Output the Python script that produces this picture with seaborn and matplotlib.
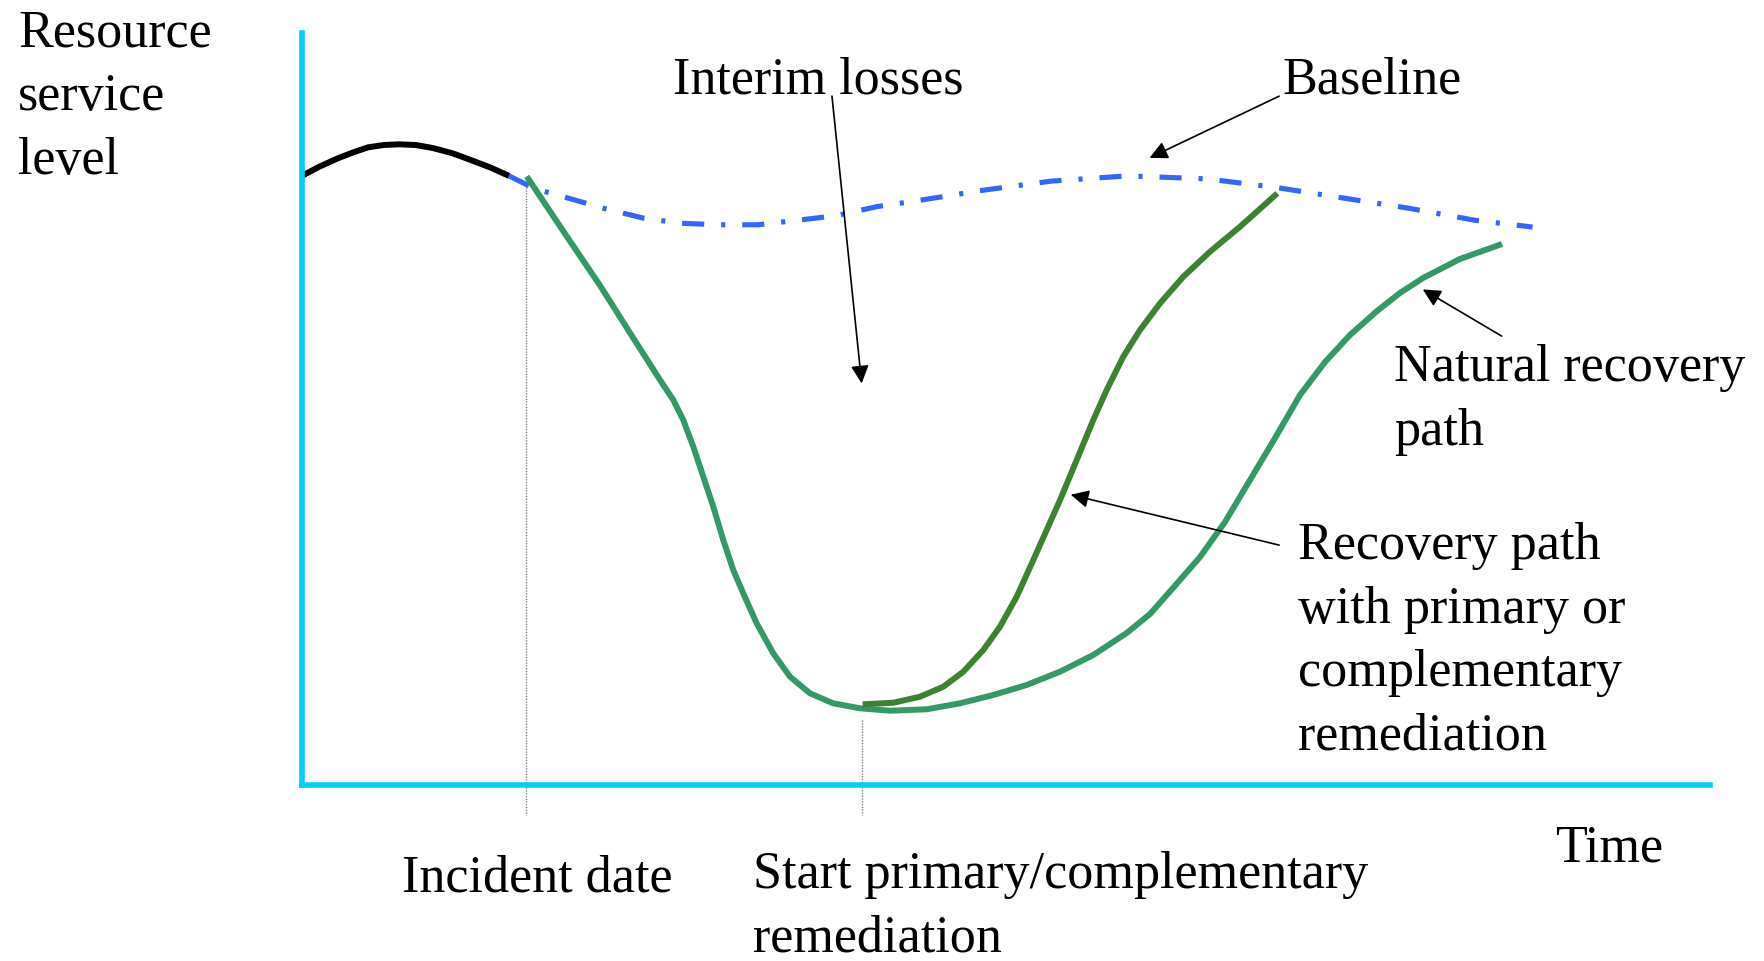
import matplotlib
matplotlib.use("Agg")
import matplotlib.pyplot as plt
import seaborn as sns

# curve values (time on x, service level on y, 0-100 scale)
pre_x = [0.0, 1.2, 2.5, 3.6, 4.7, 5.8, 6.9, 8.1, 9.3, 10.7, 12.0, 13.4, 14.7]
pre_y = [81.0, 82.2, 83.3, 84.1, 84.8, 85.1, 85.2, 85.1, 84.7, 84.0, 83.1, 82.1, 81.0]

baseline_x = [14.7, 16.0, 17.1, 18.8, 21.4, 24.2, 26.9, 29.6, 32.4, 35.2, 37.9, 40.8,
              43.7, 48.4, 53.2, 58.6, 64.3, 69.4, 73.8, 78.6, 83.3, 87.4]
baseline_y = [81.0, 79.8, 79.0, 78.1, 76.7, 75.4, 74.7, 74.5, 74.5, 75.1, 75.7, 76.9,
              77.7, 79.1, 80.3, 81.0, 80.6, 79.4, 78.1, 76.7, 75.1, 74.2]

natural_x = [15.96, 18.80, 21.16, 23.53, 25.43, 26.37, 27.08, 27.79, 28.50, 29.21, 29.92,
             30.63, 31.34, 32.29, 33.47, 34.66, 36.08, 37.73, 39.63, 41.76, 44.37, 46.73,
             49.10, 51.47, 53.84, 56.20, 58.57, 60.23, 61.86, 63.78, 65.55, 67.33, 69.11,
             70.88, 72.66, 74.43, 76.35, 77.98, 79.62, 82.24, 85.23]
natural_y = [80.93, 72.97, 66.44, 59.43, 53.86, 51.20, 48.54, 44.99, 41.00, 37.01, 32.58,
             28.59, 25.49, 21.50, 17.51, 14.40, 12.19, 10.86, 10.20, 9.88, 10.07, 10.86,
             11.97, 13.30, 15.07, 17.29, 20.21, 22.74, 26.20, 30.32, 34.97, 40.56, 46.14,
             51.86, 56.25, 59.84, 63.03, 65.43, 67.42, 69.95, 71.94]

remed_x = [39.82, 42.00, 43.89, 45.55, 46.97, 48.39, 49.57, 50.76, 51.94, 52.89, 53.84,
           55.02, 56.20, 57.15, 58.33, 59.52, 60.94, 62.59, 64.49, 66.62, 69.27]
remed_y = [10.73, 10.94, 11.74, 13.07, 15.07, 17.95, 21.05, 25.04, 29.92, 33.91, 37.90,
           43.22, 48.54, 52.53, 56.96, 60.51, 64.06, 67.59, 70.92, 74.24, 78.68]

incident_t = 15.9
start_t = 39.8

sns.set_style("white")
plt.rcParams["font.family"] = ["Liberation Serif", "DejaVu Serif"]
plt.rcParams["font.size"] = 37.5
plt.rcParams["text.color"] = "black"

W, H = 1764, 961
fig = plt.figure(figsize=(W / 100, H / 100), dpi=100)
ax = fig.add_axes([302 / W, (H - 785) / H, (1710 - 302) / W, (785 - 33) / H])
ax.set_xlim(0, 100)
ax.set_ylim(0, 100)

# curves
line_kw = dict(lw=4.3, sort=False, estimator=None, solid_joinstyle="round",
               solid_capstyle="butt")
sns.lineplot(x=baseline_x, y=baseline_y, ax=ax, color="#3366ff", lw=3.7, sort=False,
             estimator=None, linestyle=(0, (4.3, 3.3, 0.8, 3.3)))
sns.lineplot(x=pre_x, y=pre_y, ax=ax, color="black", **line_kw)
sns.lineplot(x=natural_x, y=natural_y, ax=ax, color="#339966", **line_kw)
sns.lineplot(x=remed_x, y=remed_y, ax=ax, color="#3c8230", **line_kw)

# dotted markers for incident and start of remediation
ax.plot([incident_t, incident_t], [79.5, -4.0], color="gray", lw=1.0, ls=(0, (1, 1)),
        clip_on=False, zorder=1)
ax.plot([start_t, start_t], [8.6, -4.0], color="gray", lw=1.0, ls=(0, (1, 1)),
        clip_on=False, zorder=1)

# axes styling
for s in ["top", "right"]:
    ax.spines[s].set_visible(False)
for s in ["left", "bottom"]:
    ax.spines[s].set_color("#00ccff")
    ax.spines[s].set_linewidth(4.0)
ax.set_xticks([])
ax.set_yticks([])

# arrows
arrow = dict(arrowstyle="-|>", color="black", lw=1.2, mutation_scale=27, shrinkA=0, shrinkB=0)
ax.annotate("", xy=(39.75, 53.4), xytext=(37.64, 91.6), arrowprops=arrow, annotation_clip=False)
ax.annotate("", xy=(60.2, 83.4), xytext=(69.4, 91.6), arrowprops=arrow, annotation_clip=False)
ax.annotate("", xy=(79.6, 65.9), xytext=(85.2, 59.7), arrowprops=arrow, annotation_clip=False)
ax.annotate("", xy=(54.6, 38.6), xytext=(69.4, 31.9), arrowprops=arrow, annotation_clip=False)


# px, py: left edge and baseline of the last line, in figure pixels
def label(px, py, s):
    fig.text(px / W, 1 - py / H, s, ha="left", va="baseline", linespacing=1.42)


label(18, 174, "Resource\nservice\nlevel")
label(673, 94, "Interim losses")
label(1282, 94, "Baseline")
label(1394, 445, "Natural recovery\npath")
label(1298, 750, "Recovery path\nwith primary or\ncomplementary\nremediation")
label(1555, 861, "Time")
label(402, 892, "Incident date")
label(753, 952, "Start primary/complementary\nremediation")

fig.savefig("out.png", dpi=100)
